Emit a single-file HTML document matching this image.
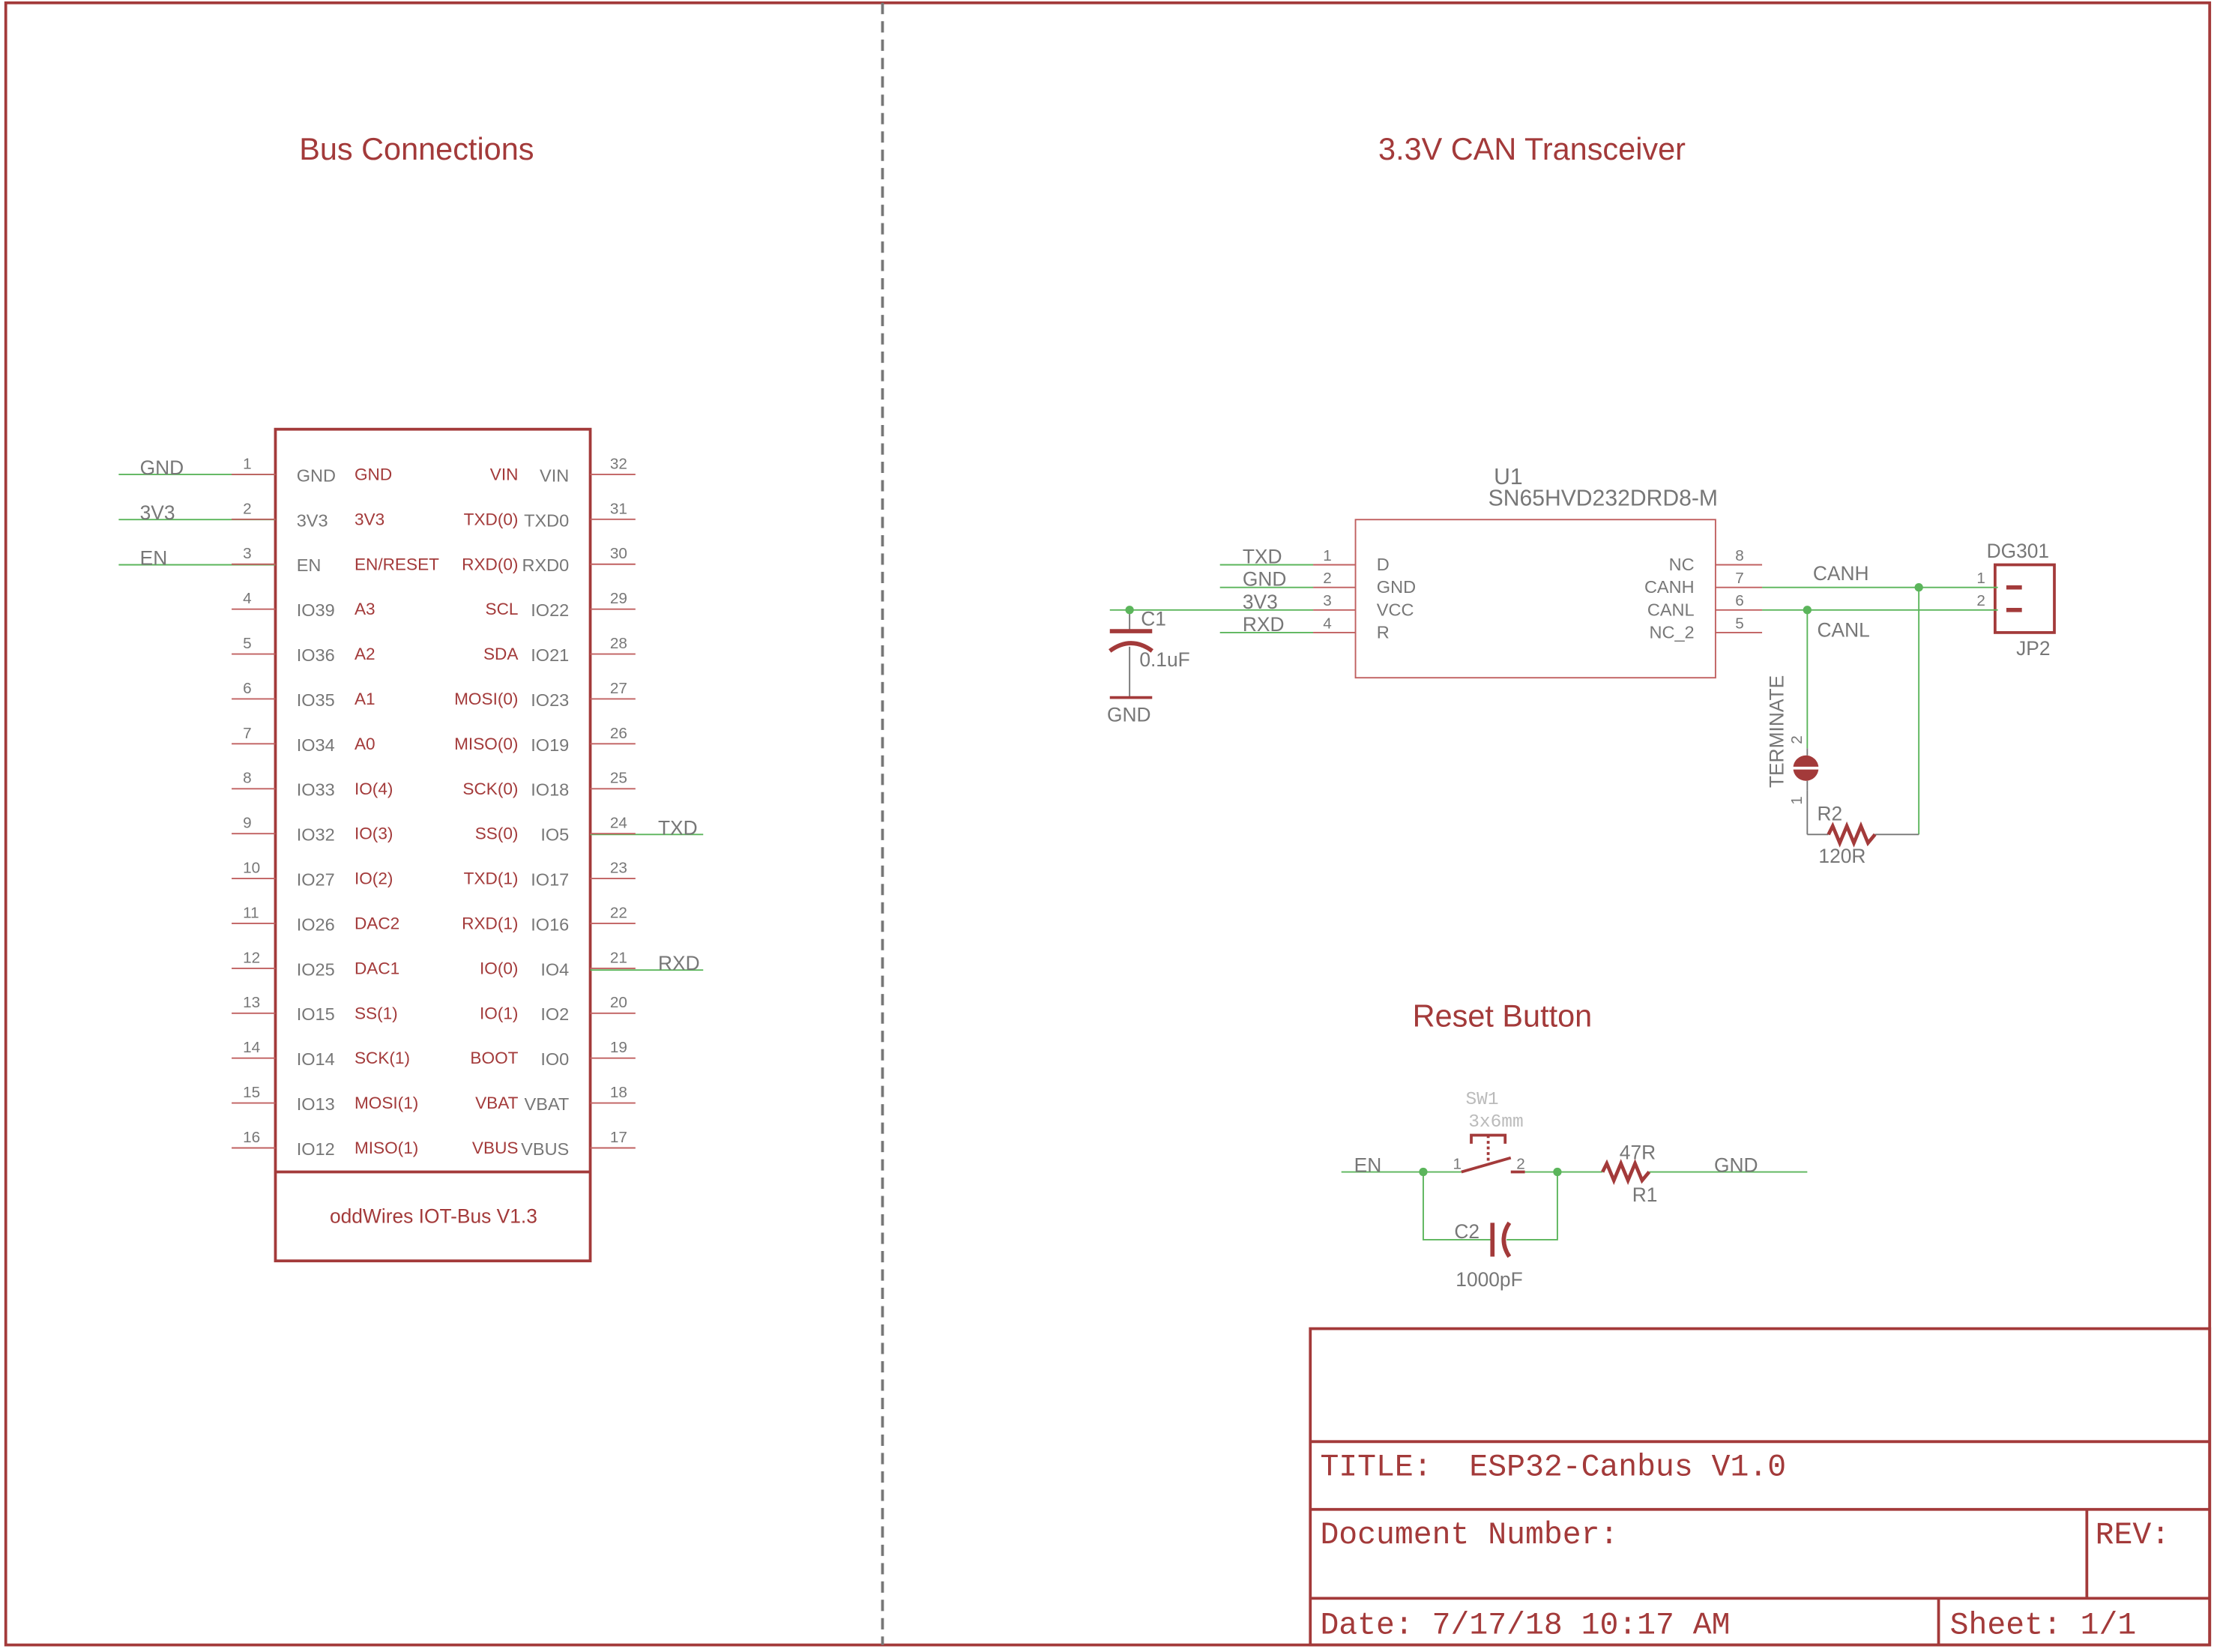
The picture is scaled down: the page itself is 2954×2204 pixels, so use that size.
<!DOCTYPE html>
<html><head><meta charset="utf-8"><style>
html,body{margin:0;padding:0;background:#fff;}
svg{display:block;}
text{font-family:"Liberation Sans",sans-serif;}
.r{fill:#a33a3a;font-size:12px;}
.g{fill:#777;font-size:12.5px;}
.n{fill:#777;font-size:11px;}
.net{fill:#777;font-size:14px;}
.h{fill:#a33a3a;font-size:22px;}
.tb{fill:#a33a3a;font-family:"Liberation Mono",monospace;font-size:22px;}
</style></head><body>
<svg width="2954" height="2204" viewBox="0 0 1568 1170" xmlns="http://www.w3.org/2000/svg">
<rect x="0" y="0" width="1568" height="1170" fill="#fff"/>
<g stroke="#a33a3a" stroke-width="2" fill="none">
<rect x="4" y="2" width="1561" height="1163"/>
<rect x="928" y="941" width="637" height="224"/>
<line x1="928" y1="1021" x2="1565" y2="1021"/>
<line x1="928" y1="1069" x2="1565" y2="1069"/>
<line x1="928" y1="1132" x2="1565" y2="1132"/>
<line x1="1478" y1="1069" x2="1478" y2="1132"/>
<line x1="1373" y1="1132" x2="1373" y2="1165"/>
<rect x="195" y="304" width="223" height="589"/>
<line x1="195" y1="830" x2="418" y2="830"/>
<rect x="1413" y="400" width="42" height="48"/>
</g>
<line x1="625" y1="2" x2="625" y2="1165" stroke="#777" stroke-width="2" stroke-dasharray="8,5"/>
<text class="h" x="295" y="113" text-anchor="middle">Bus Connections</text>
<text class="h" x="1085" y="113" text-anchor="middle">3.3V CAN Transceiver</text>
<text class="h" x="1064" y="727" text-anchor="middle">Reset Button</text>
<text class="r" x="307" y="866" text-anchor="middle" style="font-size:14px">oddWires IOT-Bus V1.3</text>
<g stroke="#5bb55b" stroke-width="1">
<line x1="84" y1="336" x2="195" y2="336"/><line x1="84" y1="368" x2="195" y2="368"/><line x1="84" y1="400" x2="195" y2="400"/>
<line x1="418" y1="591" x2="498" y2="591"/><line x1="418" y1="687" x2="498" y2="687"/>
<line x1="864" y1="400" x2="930" y2="400"/><line x1="864" y1="416" x2="930" y2="416"/><line x1="786" y1="432" x2="930" y2="432"/><line x1="864" y1="448" x2="930" y2="448"/>
<line x1="1248" y1="416" x2="1415" y2="416"/><line x1="1248" y1="432" x2="1415" y2="432"/>
<line x1="1280" y1="432" x2="1280" y2="530"/><line x1="1359" y1="416" x2="1359" y2="591"/>
<line x1="950" y1="830" x2="1035" y2="830"/><line x1="1080" y1="830" x2="1135" y2="830"/><line x1="1168" y1="830" x2="1280" y2="830"/>
<polyline points="1008,830 1008,878 1057,878" fill="none"/><polyline points="1067,878 1103,878 1103,830" fill="none"/>
</g>
<g stroke="#777" stroke-width="1">
<line x1="1280" y1="560" x2="1280" y2="591"/><line x1="1280" y1="591" x2="1295" y2="591"/><line x1="1328" y1="591" x2="1359" y2="591"/>
<line x1="800" y1="432" x2="800" y2="447"/><line x1="800" y1="458" x2="800" y2="494"/>
</g>
<text class="net" x="99" y="336">GND</text><text class="net" x="99" y="368">3V3</text><text class="net" x="99" y="400">EN</text>
<text class="net" x="466" y="591">TXD</text><text class="net" x="466" y="687">RXD</text>
<rect x="960" y="368" width="255" height="112" fill="none" stroke="#c06060" stroke-width="1"/>
<g stroke="#c06060" stroke-width="1">
<line x1="930" y1="400" x2="960" y2="400"/><line x1="930" y1="416" x2="960" y2="416"/><line x1="930" y1="432" x2="960" y2="432"/><line x1="930" y1="448" x2="960" y2="448"/>
<line x1="1215" y1="400" x2="1248" y2="400"/><line x1="1215" y1="416" x2="1248" y2="416"/><line x1="1215" y1="432" x2="1248" y2="432"/><line x1="1215" y1="448" x2="1248" y2="448"/>
</g>
<g class="n"><text x="937" y="397">1</text><text x="937" y="413">2</text><text x="937" y="429">3</text><text x="937" y="445">4</text>
<text x="1229" y="397">8</text><text x="1229" y="413">7</text><text x="1229" y="429">6</text><text x="1229" y="445">5</text></g>
<g class="g"><text x="975" y="404">D</text><text x="975" y="420">GND</text><text x="975" y="436">VCC</text><text x="975" y="452">R</text>
<text x="1200" y="404" text-anchor="end">NC</text><text x="1200" y="420" text-anchor="end">CANH</text><text x="1200" y="436" text-anchor="end">CANL</text><text x="1200" y="452" text-anchor="end">NC_2</text></g>
<text class="net" x="880" y="399">TXD</text><text class="net" x="880" y="415">GND</text><text class="net" x="880" y="431">3V3</text><text class="net" x="880" y="447">RXD</text>
<text class="net" x="1058" y="343" style="font-size:16px">U1</text><text class="net" x="1054" y="358" style="font-size:16px">SN65HVD232DRD8-M</text>
<text class="net" x="1284" y="411">CANH</text><text class="net" x="1287" y="451">CANL</text>
<text class="net" x="1407" y="395">DG301</text><text class="net" x="1428" y="464">JP2</text>
<text class="n" x="1400" y="413">1</text><text class="n" x="1400" y="429">2</text>
<g stroke="#a33a3a" stroke-width="3"><line x1="1421" y1="416" x2="1432" y2="416"/><line x1="1421" y1="432" x2="1432" y2="432"/></g>
<g fill="#5bb55b"><circle cx="1359" cy="416" r="3"/><circle cx="1280" cy="432" r="3"/><circle cx="800" cy="432" r="3"/><circle cx="1008" cy="830" r="3"/><circle cx="1103" cy="830" r="3"/></g>
<circle cx="1279" cy="544" r="9" fill="#a33a3a"/><line x1="1268" y1="544" x2="1290" y2="544" stroke="#fff" stroke-width="2"/>
<line x1="1280" y1="530" x2="1280" y2="535" stroke="#777"/><line x1="1280" y1="553" x2="1280" y2="560" stroke="#777"/>
<text class="net" transform="translate(1263,558) rotate(-90)">TERMINATE</text>
<text class="n" transform="translate(1276,527) rotate(-90)">2</text><text class="n" transform="translate(1276,570) rotate(-90)">1</text>
<polyline points="1295,591 1298,585 1303,597 1308,585 1313,597 1318,585 1323,597 1328,591" fill="none" stroke="#a33a3a" stroke-width="2.5"/>
<text class="net" x="1287" y="581">R2</text><text class="net" x="1288" y="611">120R</text>
<line x1="786" y1="447" x2="816" y2="447" stroke="#a33a3a" stroke-width="3"/>
<path d="M786,461 Q801,450 816,461" fill="none" stroke="#a33a3a" stroke-width="3"/>
<line x1="786" y1="494" x2="816" y2="494" stroke="#a33a3a" stroke-width="2"/>
<text class="net" x="808" y="443">C1</text><text class="net" x="807" y="472">0.1uF</text><text class="net" x="784" y="511">GND</text>
<text class="net" x="959" y="830">EN</text>
<text class="n" x="1029" y="828">1</text><text class="n" x="1074" y="828">2</text>
<g stroke="#a33a3a" stroke-width="2" fill="none">
<line x1="1035" y1="830" x2="1070" y2="820"/><line x1="1070" y1="830" x2="1080" y2="830"/>
<polyline points="1042,810 1042,804 1066,804 1066,810"/><line x1="1054" y1="804" x2="1054" y2="822" stroke-dasharray="2,2"/>
<polyline points="1135,830 1138,824 1143,836 1148,824 1153,836 1158,824 1163,836 1168,830" stroke-width="2.5"/>
<line x1="1057" y1="866" x2="1057" y2="890" stroke-width="3"/><path d="M1069,866 Q1061,878 1069,890" stroke-width="3"/>
</g>
<text x="1038" y="782" style="fill:#bbb;font-size:13px;font-family:'Liberation Mono',monospace">SW1</text>
<text x="1040" y="798" style="fill:#bbb;font-size:13px;font-family:'Liberation Mono',monospace">3x6mm</text>
<text class="net" x="1147" y="821">47R</text><text class="net" x="1156" y="851">R1</text><text class="net" x="1214" y="830">GND</text>
<text class="net" x="1030" y="877">C2</text><text class="net" x="1031" y="911">1000pF</text>
<text class="tb" x="935" y="1045">TITLE:&#160; ESP32-Canbus V1.0</text>
<text class="tb" x="935" y="1093">Document Number:</text>
<text class="tb" x="1484" y="1093">REV:</text>
<text class="tb" x="935" y="1157">Date: 7/17/18 10:17 AM</text>
<text class="tb" x="1381" y="1157">Sheet: 1/1</text>
</svg>
<script>
(function(){
var s=document.querySelector('svg'),ns='http://www.w3.org/2000/svg';
function el(t,a,txt){var e=document.createElementNS(ns,t);for(var k in a)e.setAttribute(k,a[k]);if(txt!=null)e.textContent=txt;s.appendChild(e);}
var lg=['GND','3V3','EN','IO39','IO36','IO35','IO34','IO33','IO32','IO27','IO26','IO25','IO15','IO14','IO13','IO12'];
var lr=['GND','3V3','EN/RESET','A3','A2','A1','A0','IO(4)','IO(3)','IO(2)','DAC2','DAC1','SS(1)','SCK(1)','MOSI(1)','MISO(1)'];
var rr=['VIN','TXD(0)','RXD(0)','SCL','SDA','MOSI(0)','MISO(0)','SCK(0)','SS(0)','TXD(1)','RXD(1)','IO(0)','IO(1)','BOOT','VBAT','VBUS'];
var rg=['VIN','TXD0','RXD0','IO22','IO21','IO23','IO19','IO18','IO5','IO17','IO16','IO4','IO2','IO0','VBAT','VBUS'];
for(var i=0;i<16;i++){var y=336+31.8*i;
el('line',{x1:164,y1:y,x2:195,y2:y,stroke:'#c06060','stroke-width':1});
el('line',{x1:418,y1:y,x2:450,y2:y,stroke:'#c06060','stroke-width':1});
el('text',{'class':'n',x:172,y:y-4},String(i+1));
el('text',{'class':'n',x:432,y:y-4},String(32-i));
el('text',{'class':'g',x:210,y:y+5},lg[i]);
el('text',{'class':'r',x:251,y:y+4},lr[i]);
el('text',{'class':'r',x:367,y:y+4,'text-anchor':'end'},rr[i]);
el('text',{'class':'g',x:403,y:y+5,'text-anchor':'end'},rg[i]);}
})();
</script>
</body></html>
